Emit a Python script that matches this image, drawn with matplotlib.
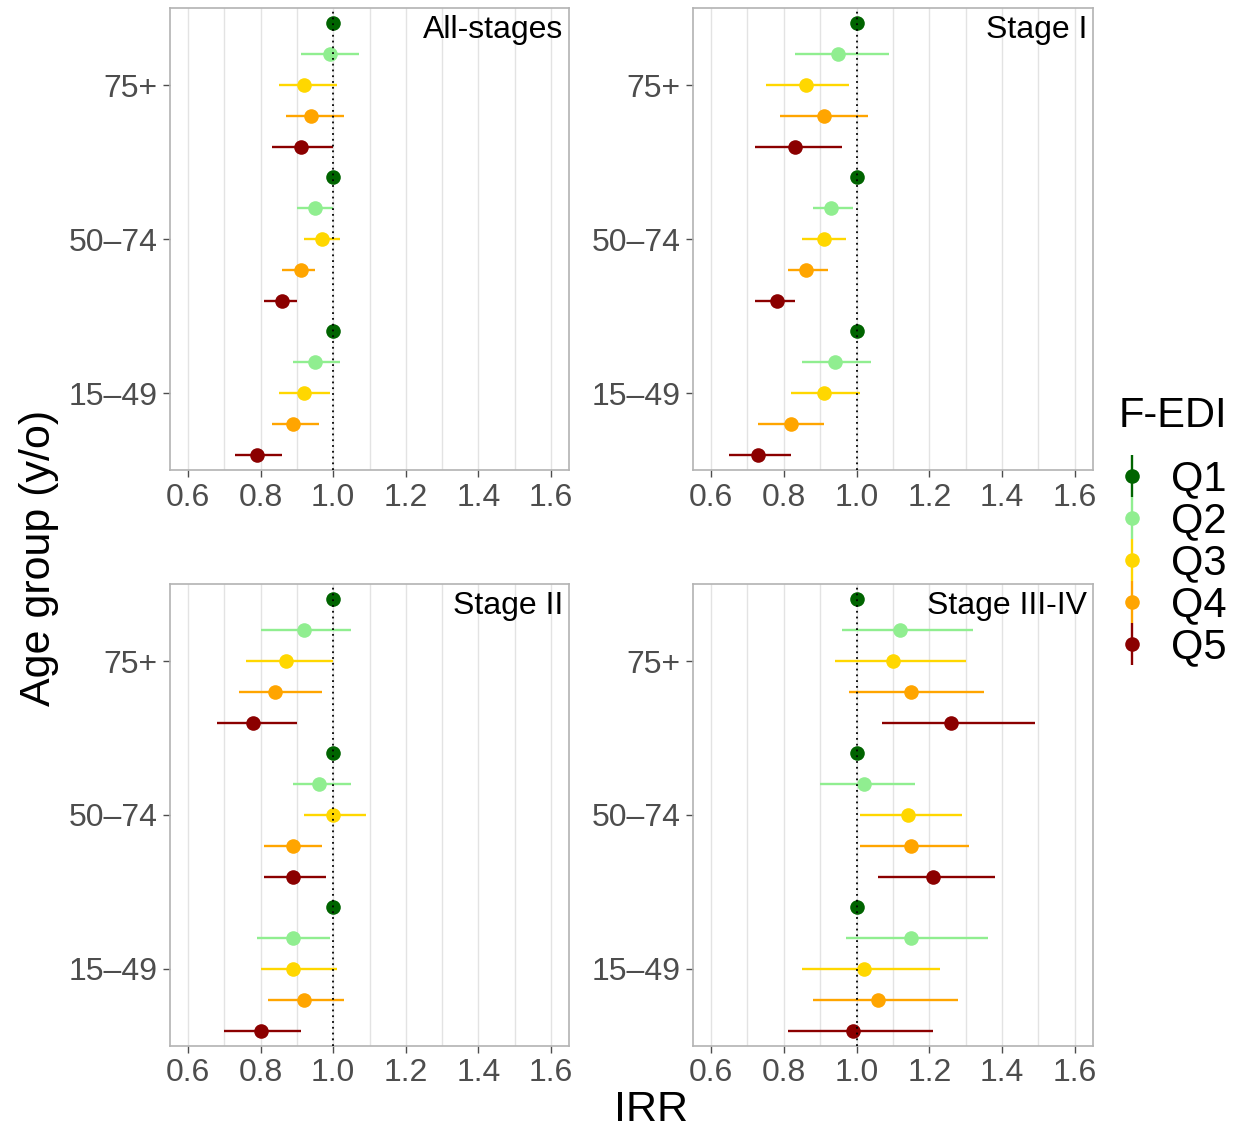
import numpy as np
import matplotlib
matplotlib.use("Agg")
import matplotlib.pyplot as plt
from matplotlib.lines import Line2D

plt.rcParams["font.family"] = ["Liberation Sans", "DejaVu Sans"]

age_groups = ["15–49", "50–74", "75+"]
quintiles = ["Q1", "Q2", "Q3", "Q4", "Q5"]
colors = ["#006400", "#90EE90", "#FFD700", "#FFA500", "#8B0000"]
panel_titles = ["All-stages", "Stage I", "Stage II", "Stage III-IV"]

# rows: 15-49, 50-74, 75+ ; columns: Q1..Q5
all_est = [[1.00, 0.95, 0.92, 0.89, 0.79],
           [1.00, 0.95, 0.97, 0.91, 0.86],
           [1.00, 0.99, 0.92, 0.94, 0.91]]
all_lo = [[1.00, 0.89, 0.85, 0.83, 0.73],
          [1.00, 0.90, 0.92, 0.86, 0.81],
          [1.00, 0.91, 0.85, 0.87, 0.83]]
all_hi = [[1.00, 1.02, 0.99, 0.96, 0.86],
          [1.00, 1.00, 1.02, 0.95, 0.90],
          [1.00, 1.07, 1.01, 1.03, 1.00]]

s1_est = [[1.00, 0.94, 0.91, 0.82, 0.73],
          [1.00, 0.93, 0.91, 0.86, 0.78],
          [1.00, 0.95, 0.86, 0.91, 0.83]]
s1_lo = [[1.00, 0.85, 0.82, 0.73, 0.65],
         [1.00, 0.88, 0.85, 0.81, 0.72],
         [1.00, 0.83, 0.75, 0.79, 0.72]]
s1_hi = [[1.00, 1.04, 1.01, 0.91, 0.82],
         [1.00, 0.99, 0.97, 0.92, 0.83],
         [1.00, 1.09, 0.98, 1.03, 0.96]]

s2_est = [[1.00, 0.89, 0.89, 0.92, 0.80],
          [1.00, 0.96, 1.00, 0.89, 0.89],
          [1.00, 0.92, 0.87, 0.84, 0.78]]
s2_lo = [[1.00, 0.79, 0.80, 0.82, 0.70],
         [1.00, 0.89, 0.92, 0.81, 0.81],
         [1.00, 0.80, 0.76, 0.74, 0.68]]
s2_hi = [[1.00, 0.99, 1.01, 1.03, 0.91],
         [1.00, 1.05, 1.09, 0.97, 0.98],
         [1.00, 1.05, 1.00, 0.97, 0.90]]

s34_est = [[1.00, 1.15, 1.02, 1.06, 0.99],
           [1.00, 1.02, 1.14, 1.15, 1.21],
           [1.00, 1.12, 1.10, 1.15, 1.26]]
s34_lo = [[1.00, 0.97, 0.85, 0.88, 0.81],
          [1.00, 0.90, 1.01, 1.01, 1.06],
          [1.00, 0.96, 0.94, 0.98, 1.07]]
s34_hi = [[1.00, 1.36, 1.23, 1.28, 1.21],
          [1.00, 1.16, 1.29, 1.31, 1.38],
          [1.00, 1.32, 1.30, 1.35, 1.49]]

panel_data = [(all_est, all_lo, all_hi), (s1_est, s1_lo, s1_hi),
              (s2_est, s2_lo, s2_hi), (s34_est, s34_lo, s34_hi)]

fig = plt.figure(figsize=(12.49, 11.31), dpi=100)

axes_pos = [[0.1361, 0.5844, 0.3195, 0.4085],
            [0.5548, 0.5844, 0.3203, 0.4085],
            [0.1361, 0.0752, 0.3195, 0.4084],
            [0.5548, 0.0752, 0.3203, 0.4084]]

offsets = [0.4 - 0.2 * q for q in range(5)]

for pos, title, (est, lo, hi) in zip(axes_pos, panel_titles, panel_data):
    ax = fig.add_axes(pos)
    for g in range(3):
        for q in range(5):
            y = g + 1 + offsets[q]
            ax.hlines(y, lo[g][q], hi[g][q], color=colors[q], lw=1.7, zorder=2)
            ax.plot(est[g][q], y, "o", color=colors[q], ms=10.5, mec="none", zorder=3)
    ax.axvline(1.0, color="black", ls=(0, (1, 2.2)), lw=1.3, zorder=4)

    ax.set_xlim(0.55, 1.65)
    ax.set_ylim(0.5, 3.5)
    ax.set_xticks(np.arange(0.6, 1.61, 0.2))
    ax.set_xticks(np.arange(0.7, 1.6, 0.2), minor=True)
    ax.set_xticklabels(["0.6", "0.8", "1.0", "1.2", "1.4", "1.6"])
    ax.set_yticks([1, 2, 3])
    ax.set_yticklabels(age_groups)
    ax.grid(axis="x", which="both", color="#E3E3E3", lw=1.0, zorder=0)
    ax.set_axisbelow(True)
    ax.tick_params(axis="both", which="major", labelsize=23, colors="#4D4D4D",
                   length=5, width=1.0, pad=4)
    ax.tick_params(axis="x", which="minor", length=0)
    for sp in ax.spines.values():
        sp.set_color("#B3B3B3")
        sp.set_linewidth(1.2)
    ax.text(0.985, 0.985, title, transform=ax.transAxes, ha="right", va="top",
            fontsize=23, color="black")

fig.text(0.031, 0.507, "Age group (y/o)", rotation=90, ha="center", va="center",
         fontsize=31)
fig.text(0.521, 0.019, "IRR", ha="center", va="center", fontsize=31)

handles = []
for c in colors:
    bar = Line2D([], [], color=c, marker="|", ms=30, mew=1.7, ls="none")
    dot = Line2D([], [], color=c, marker="o", ms=10.5, mec="none", ls="none")
    handles.append((bar, dot))

leg = fig.legend(handles, quintiles, title="F-EDI", loc="center left",
                 bbox_to_anchor=(0.896, 0.530), frameon=False, fontsize=30,
                 title_fontsize=30, handlelength=0.6, handletextpad=0.64,
                 labelspacing=0.05, borderaxespad=0, borderpad=0)
leg._legend_box.align = "left"
leg._legend_box.sep = 17

fig.savefig("out.png", dpi=100)
